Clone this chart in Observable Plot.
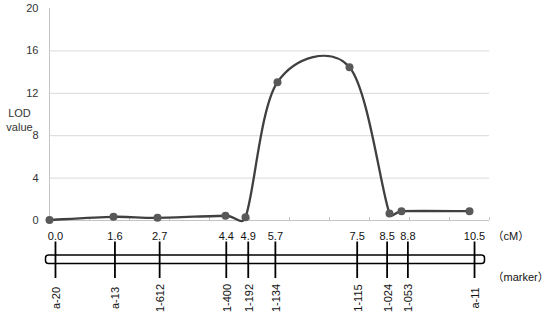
<!DOCTYPE html>
<html><head><meta charset="utf-8">
<script src="https://cdn.jsdelivr.net/npm/d3@7"></script>
<script src="https://cdn.jsdelivr.net/npm/@observablehq/plot@0.6"></script>
<style>body{margin:0;background:#fff;} #chart svg{display:block;}</style>
</head><body><div id="chart"></div>
<script>
// genetic positions (cM) of the markers and their labels
const positions = [0.0, 1.6, 2.7, 4.4, 4.9, 5.7, 7.5, 8.5, 8.8, 10.5];
const positionLabels = ["0.0","1.6","2.7","4.4","4.9","5.7","7.5","8.5","8.8","10.5"];
// where each marker is drawn on the schematic linkage bar (bar units, as in the figure)
const mapPositions = [0.0, 1.49, 2.61, 4.28, 4.83, 5.51, 7.56, 8.31, 8.83, 10.5];
const markers = ["a-20","a-13","1-612","1-400","1-192","1-134","1-115","1-024","1-053","a-11"];
const lodValues = [0.05, 0.35, 0.25, 0.45, 0.3, 13.05, 14.45, 0.65, 0.88, 0.88];
const yTicks = [0, 4, 8, 12, 16, 20];
const yGrid = [4, 8, 12, 16];
const xMinorTicks = [0,1,2,3,4,5,6,7,8,9,10,11];
const yLabel = "LOD\nvalue";
const unitLabel = "（cM）";
const markerLabel = "（marker）";

const data = positions.map((cm, i) => ({cm, map: mapPositions[i], lod: lodValues[i], label: positionLabels[i], marker: markers[i]}));
const font = '"Liberation Sans", "Noto Sans CJK SC", sans-serif';

// Excel-like smoothed line: Catmull-Rom tangents, limited on short segments
function excelSmooth(context) {
  let pts;
  return {
    areaStart() {}, areaEnd() {},
    lineStart() { pts = []; },
    point(x, y) { pts.push([+x, +y]); },
    lineEnd() {
      const n = pts.length;
      if (!n) return;
      context.moveTo(pts[0][0], pts[0][1]);
      for (let i = 0; i < n - 1; i++) {
        const p0 = pts[Math.max(0, i - 1)], p1 = pts[i], p2 = pts[i + 1], p3 = pts[Math.min(n - 1, i + 2)];
        const d = Math.hypot(p2[0] - p1[0], p2[1] - p1[1]);
        const cap = (tx, ty) => {
          const l = Math.hypot(tx, ty);
          const s = l > 0.5 * d ? (0.5 * d) / l : 1;
          return [tx * s, ty * s];
        };
        const t1 = cap((p2[0] - p0[0]) / 6, (p2[1] - p0[1]) / 6);
        const t2 = cap((p3[0] - p1[0]) / 6, (p3[1] - p1[1]) / 6);
        context.bezierCurveTo(p1[0] + t1[0], p1[1] + t1[1], p2[0] - t2[0], p2[1] - t2[1], p2[0], p2[1]);
      }
    }
  };
}

const chartTop = Plot.plot({
  width: 550, height: 230,
  marginLeft: 49, marginRight: 61, marginTop: 8, marginBottom: 10,
  x: {domain: [0, 11], axis: null},
  y: {domain: [0, 20], axis: null},
  style: {fontFamily: font, fontSize: "11px", color: "#333", background: "white"},
  marks: [
    Plot.gridY(yGrid, {stroke: "#d9d9d9", strokeOpacity: 1}),
    Plot.ruleX([0], {stroke: "#c4c4c4"}),
    Plot.ruleY([0], {stroke: "#c4c4c4"}),
    Plot.axisX({ticks: xMinorTicks, tickSize: 3, dy: -3, tickFormat: () => "", stroke: "#c4c4c4", label: null}),
    Plot.axisY({ticks: yTicks, tickSize: 0, tickPadding: 11, label: null, fill: "#333"}),
    Plot.text([yLabel], {frameAnchor: "left", textAnchor: "middle", lineAnchor: "middle", dx: -30, dy: 5, lineHeight: 1.3, fill: "#333"}),
    Plot.line(data, {x: "cm", y: "lod", curve: excelSmooth, stroke: "#404040", strokeWidth: 2.3}),
    Plot.dot(data, {x: "cm", y: "lod", r: 4, fill: "#595959"})
  ]
});

const chartBottom = Plot.plot({
  width: 550, height: 87,
  marginLeft: 45, marginRight: 66, marginTop: 11.5, marginBottom: 39,
  x: {domain: [-0.25, 10.75], axis: null},
  style: {fontFamily: font, fontSize: "11px", color: "#111", background: "white"},
  marks: [
    Plot.frame({fill: "white", stroke: "#000", strokeWidth: 1.5, rx: 3, insetTop: 13, insetBottom: 15}),
    Plot.ruleX(data, {x: "map", stroke: "#000", strokeWidth: 1.8}),
    Plot.text(data, {x: "map", text: "label", frameAnchor: "top", lineAnchor: "middle", dy: -5.5, fill: "#111"}),
    Plot.text(data, {x: "map", text: "marker", frameAnchor: "bottom", lineAnchor: "middle", rotate: -90, textAnchor: "middle", dx: 1, dy: 19.5, fill: "#111"}),
    Plot.text([unitLabel], {frameAnchor: "top-right", textAnchor: "start", lineAnchor: "middle", dx: 8, dy: -5.5, fill: "#111"}),
    Plot.text([markerLabel], {frameAnchor: "bottom-right", textAnchor: "start", lineAnchor: "middle", dx: 8, dy: -1, fill: "#111"})
  ]
});

const el = document.getElementById("chart");
el.appendChild(chartTop);
el.appendChild(chartBottom);
</script>
</body></html>
